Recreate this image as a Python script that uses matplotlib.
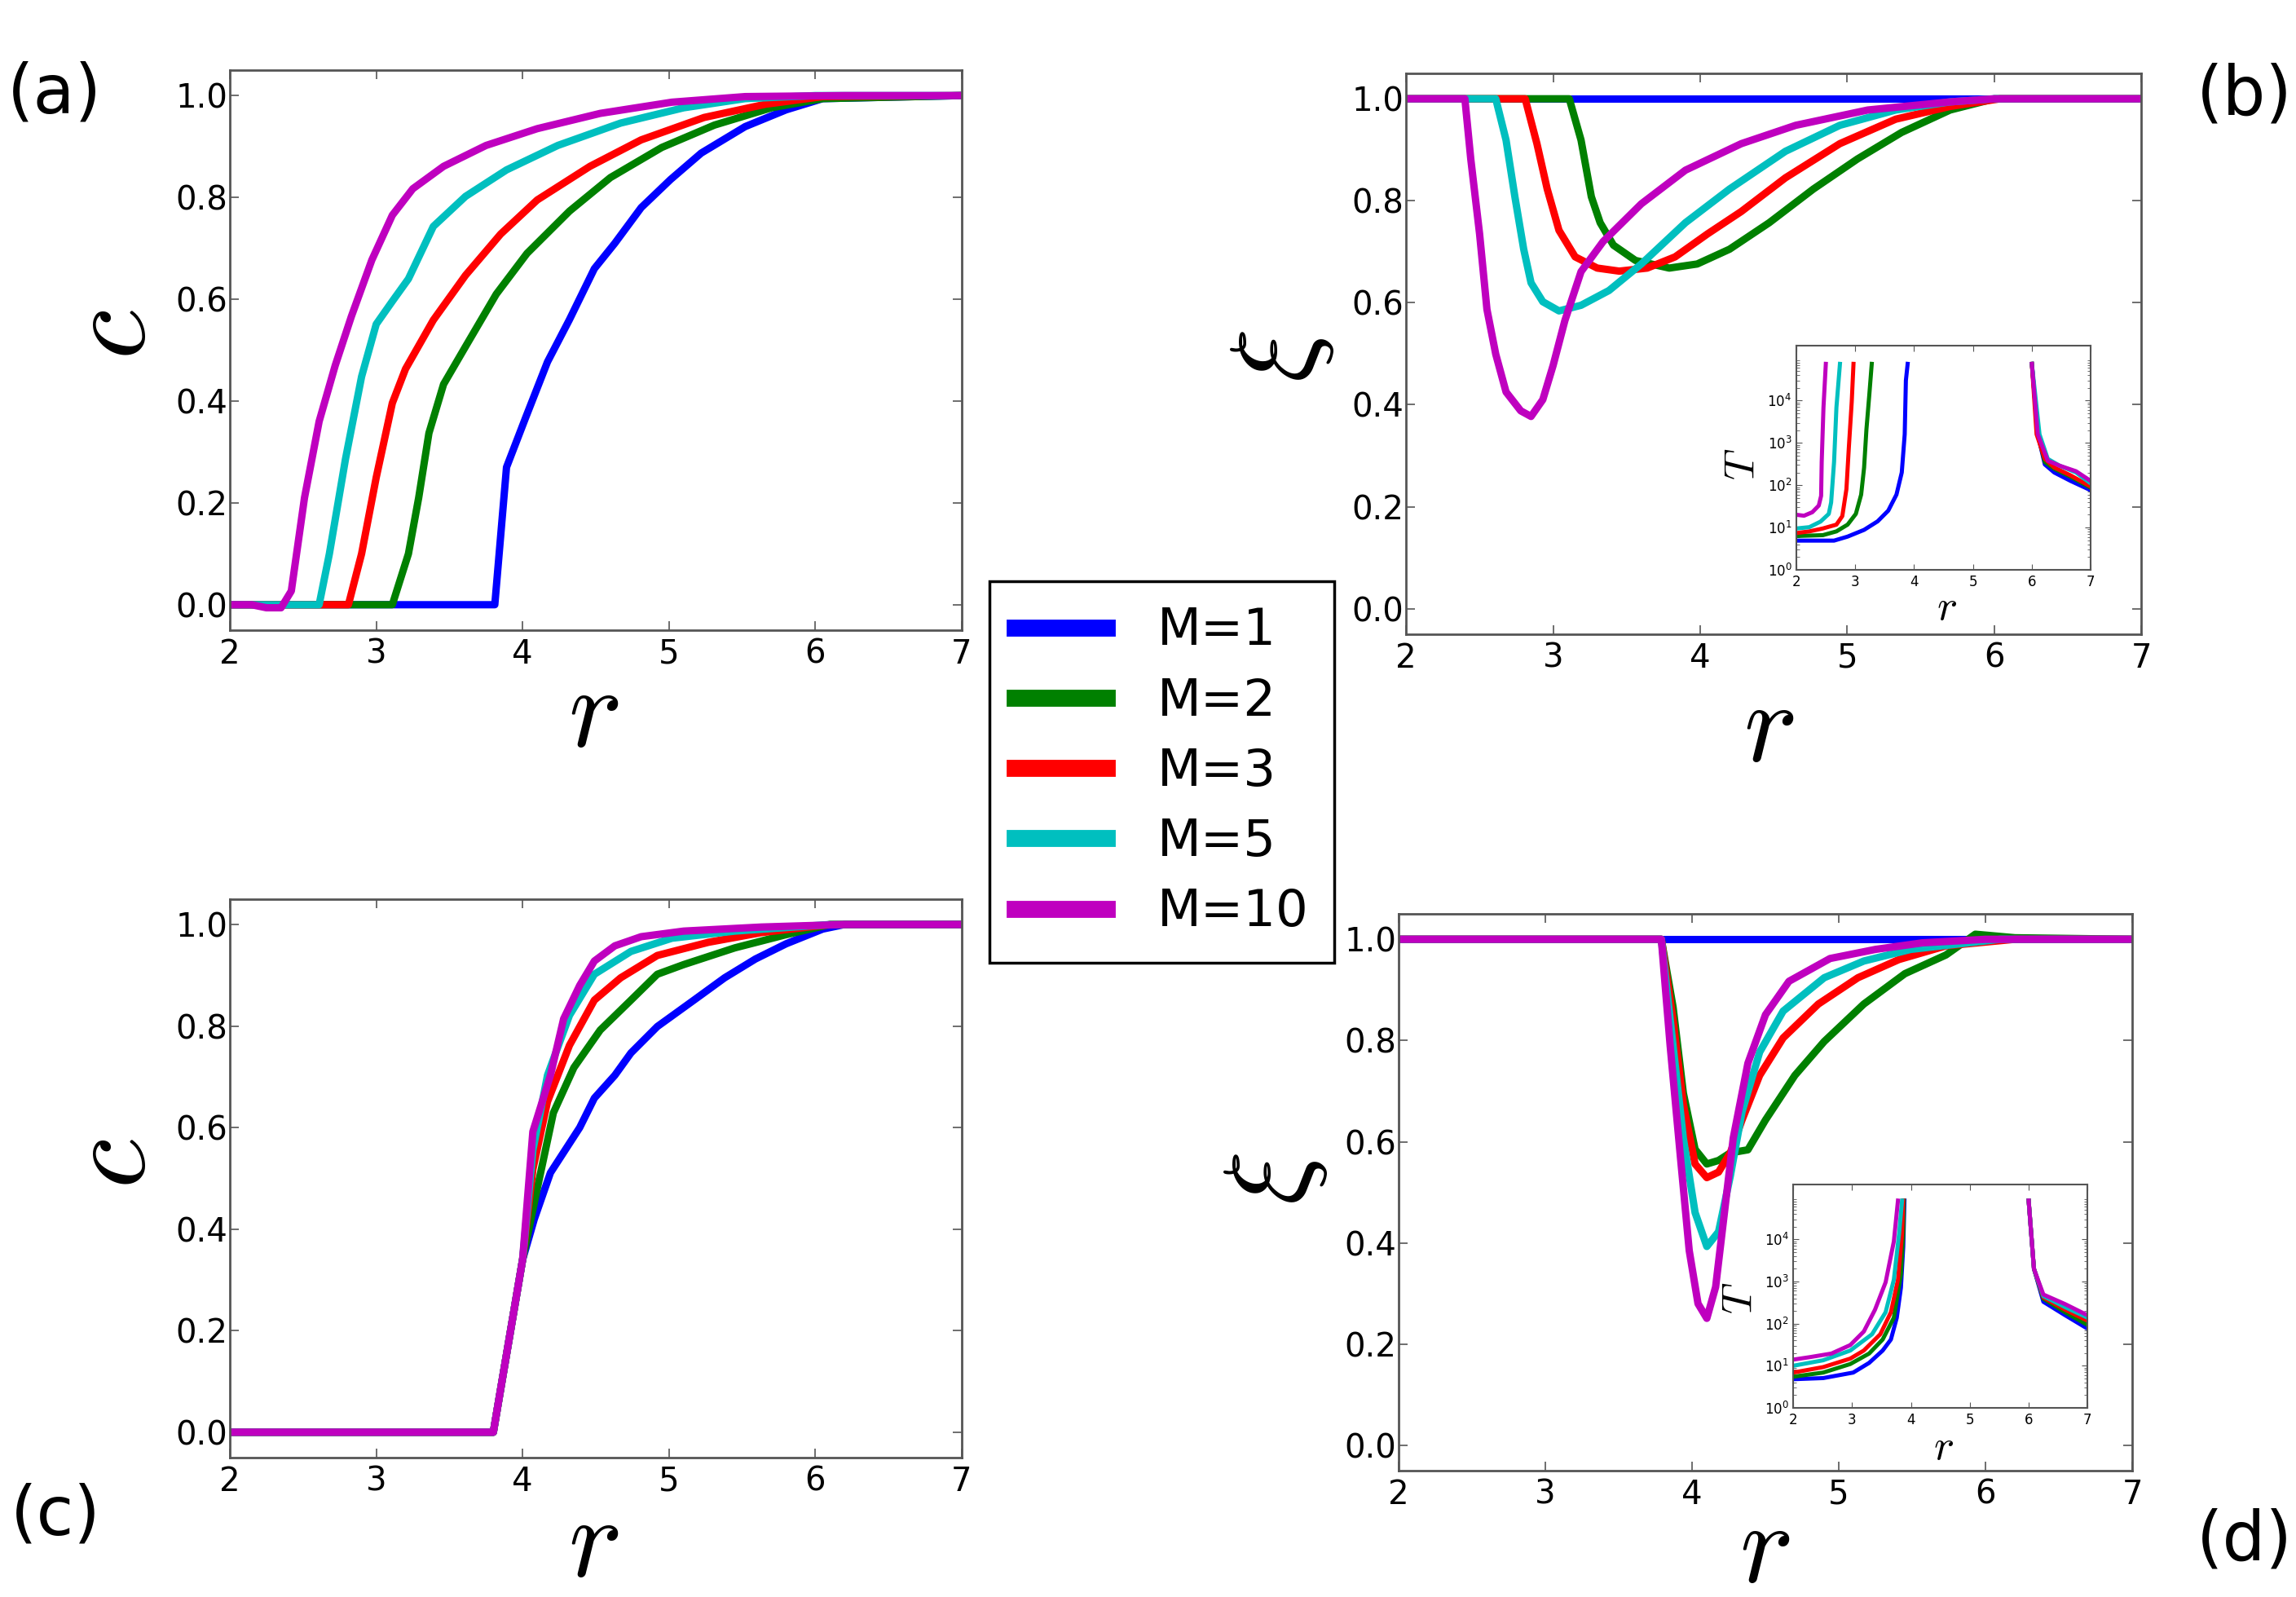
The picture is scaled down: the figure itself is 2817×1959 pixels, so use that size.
import numpy as np
import matplotlib.pyplot as plt

plt.rcParams['mathtext.fontset'] = 'cm'
plt.rcParams['font.family'] = 'DejaVu Sans'

labels = ["M=1", "M=2", "M=3", "M=5", "M=10"]
colors = ["b", "g", "r", "c", "m"]

# ---- panel (a): c vs r
a_r1 = [2.0, 3.81, 3.89, 4.02, 4.17, 4.32, 4.49, 4.63, 4.81, 5.01, 5.22, 5.52, 5.80, 6.05, 7.0]
a_c1 = [0.0, 0.0, 0.27, 0.367, 0.477, 0.56, 0.66, 0.71, 0.78, 0.835, 0.887, 0.939, 0.972, 0.994, 1.0]
a_r2 = [2.0, 3.11, 3.22, 3.29, 3.36, 3.46, 3.61, 3.82, 4.03, 4.32, 4.60, 4.95, 5.31, 5.70, 6.05, 7.0]
a_c2 = [0.0, 0.0, 0.10, 0.21, 0.337, 0.433, 0.507, 0.61, 0.69, 0.773, 0.839, 0.898, 0.942, 0.976, 0.994, 1.0]
a_r3 = [2.0, 2.81, 2.90, 3.00, 3.11, 3.20, 3.39, 3.61, 3.85, 4.10, 4.46, 4.81, 5.24, 5.66, 6.05, 7.0]
a_c3 = [0.0, 0.0, 0.10, 0.25, 0.396, 0.463, 0.559, 0.647, 0.728, 0.795, 0.861, 0.913, 0.957, 0.983, 0.998, 1.0]
a_r5 = [2.0, 2.61, 2.68, 2.79, 2.90, 3.00, 3.11, 3.22, 3.39, 3.61, 3.89, 4.24, 4.67, 5.10, 5.52, 6.0, 7.0]
a_c5 = [0.0, 0.0, 0.10, 0.286, 0.448, 0.551, 0.596, 0.64, 0.743, 0.802, 0.854, 0.902, 0.946, 0.976, 0.994, 1.0, 1.0]
a_r10 = [2.0, 2.15, 2.25, 2.35, 2.42, 2.51, 2.61, 2.72, 2.83, 2.97, 3.11, 3.25, 3.46, 3.75, 4.10, 4.53, 5.02, 5.52, 6.2, 7.0]
a_c10 = [0.0, 0.0, -0.006, -0.006, 0.027, 0.21, 0.36, 0.47, 0.566, 0.677, 0.765, 0.817, 0.861, 0.902, 0.935, 0.965, 0.987, 0.998, 1.0, 1.0]

# ---- panel (b): xi vs r
b_r1 = [2.0, 7.0]
b_x1 = [1.0, 1.0]
b_r2 = [2.0, 3.11, 3.19, 3.26, 3.32, 3.41, 3.56, 3.79, 3.98, 4.20, 4.47, 4.77, 5.07, 5.37, 5.70, 6.0, 7.0]
b_x2 = [1.0, 1.0, 0.919, 0.808, 0.757, 0.713, 0.683, 0.668, 0.676, 0.705, 0.757, 0.823, 0.882, 0.934, 0.978, 1.0, 1.0]
b_r3 = [2.0, 2.81, 2.89, 2.96, 3.04, 3.15, 3.30, 3.45, 3.64, 3.83, 4.05, 4.28, 4.58, 4.95, 5.33, 5.70, 6.04, 7.0]
b_x3 = [1.0, 1.0, 0.912, 0.823, 0.742, 0.69, 0.668, 0.662, 0.668, 0.69, 0.735, 0.779, 0.845, 0.912, 0.96, 0.985, 1.0, 1.0]
b_r5 = [2.0, 2.61, 2.68, 2.74, 2.80, 2.85, 2.93, 3.04, 3.19, 3.38, 3.60, 3.90, 4.20, 4.58, 4.95, 5.33, 5.70, 6.0, 7.0]
b_x5 = [1.0, 1.0, 0.919, 0.808, 0.705, 0.639, 0.602, 0.584, 0.595, 0.624, 0.676, 0.757, 0.823, 0.897, 0.948, 0.978, 0.994, 1.0, 1.0]
b_r10 = [2.0, 2.40, 2.44, 2.50, 2.55, 2.61, 2.68, 2.78, 2.85, 2.93, 3.00, 3.08, 3.19, 3.34, 3.60, 3.90, 4.28, 4.65, 5.14, 5.70, 6.0, 7.0]
b_x10 = [1.0, 1.0, 0.882, 0.735, 0.587, 0.499, 0.425, 0.388, 0.377, 0.41, 0.477, 0.565, 0.661, 0.72, 0.794, 0.86, 0.912, 0.948, 0.978, 0.994, 1.0, 1.0]

# ---- panel (c): c vs r
c_r1 = [2.0, 3.80, 4.00, 4.08, 4.19, 4.39, 4.49, 4.63, 4.74, 4.92, 5.17, 5.38, 5.59, 5.80, 6.05, 6.2, 7.0]
c_c1 = [0.0, 0.0, 0.34, 0.42, 0.511, 0.60, 0.658, 0.703, 0.747, 0.799, 0.851, 0.895, 0.932, 0.962, 0.991, 1.0, 1.0]
c_r2 = [2.0, 3.80, 4.00, 4.10, 4.21, 4.35, 4.53, 4.74, 4.92, 5.10, 5.45, 5.80, 6.1, 7.0]
c_c2 = [0.0, 0.0, 0.34, 0.48, 0.629, 0.718, 0.792, 0.851, 0.902, 0.921, 0.954, 0.98, 1.0, 1.0]
c_r3 = [2.0, 3.80, 4.00, 4.07, 4.17, 4.32, 4.49, 4.67, 4.92, 5.27, 5.63, 6.1, 7.0]
c_c3 = [0.0, 0.0, 0.34, 0.518, 0.651, 0.762, 0.851, 0.895, 0.939, 0.965, 0.984, 1.0, 1.0]
c_r5 = [2.0, 3.80, 4.00, 4.07, 4.17, 4.32, 4.49, 4.74, 5.02, 5.45, 6.1, 7.0]
c_c5 = [0.0, 0.0, 0.34, 0.555, 0.703, 0.821, 0.902, 0.947, 0.973, 0.987, 1.0, 1.0]
c_r10 = [2.0, 3.80, 4.00, 4.07, 4.19, 4.28, 4.39, 4.49, 4.63, 4.81, 5.10, 5.63, 6.2, 7.0]
c_c10 = [0.0, 0.0, 0.34, 0.592, 0.703, 0.814, 0.880, 0.928, 0.958, 0.976, 0.987, 0.995, 1.0, 1.0]

# ---- panel (d): xi vs r
d_r1 = [2.0, 7.0]
d_x1 = [1.0, 1.0]
d_r2 = [2.0, 3.79, 3.87, 3.94, 4.02, 4.10, 4.18, 4.26, 4.38, 4.50, 4.70, 4.90, 5.17, 5.45, 5.73, 5.93, 6.2, 7.0]
d_x2 = [1.0, 1.0, 0.866, 0.696, 0.585, 0.556, 0.563, 0.578, 0.584, 0.643, 0.731, 0.798, 0.872, 0.932, 0.969, 1.01, 1.003, 1.0]
d_r3 = [2.0, 3.79, 3.87, 3.94, 4.02, 4.10, 4.18, 4.26, 4.34, 4.46, 4.62, 4.86, 5.13, 5.41, 5.73, 6.2, 7.0]
d_x3 = [1.0, 1.0, 0.84, 0.674, 0.556, 0.529, 0.54, 0.578, 0.643, 0.731, 0.805, 0.872, 0.924, 0.96, 0.987, 1.0, 1.0]
d_r5 = [2.0, 3.79, 3.87, 3.94, 4.02, 4.10, 4.18, 4.26, 4.34, 4.46, 4.62, 4.90, 5.17, 5.49, 6.1, 7.0]
d_x5 = [1.0, 1.0, 0.79, 0.607, 0.46, 0.393, 0.422, 0.532, 0.659, 0.777, 0.858, 0.924, 0.957, 0.98, 1.0, 1.0]
d_r10 = [2.0, 3.79, 3.85, 3.92, 3.98, 4.04, 4.10, 4.16, 4.22, 4.28, 4.38, 4.50, 4.66, 4.94, 5.25, 5.57, 6.0, 7.0]
d_x10 = [1.0, 1.0, 0.79, 0.57, 0.385, 0.28, 0.251, 0.313, 0.46, 0.607, 0.755, 0.851, 0.917, 0.962, 0.98, 0.993, 1.0, 1.0]

# ---- inset of (b): T vs r, two branches per M
bi_rL1 = [2.0, 2.64, 2.87, 3.15, 3.38, 3.56, 3.70, 3.79, 3.84, 3.86, 3.89]
bi_TL1 = [4.9, 4.9, 6.1, 8.8, 14, 25, 60, 200, 1600, 3.0e4, 7.4e4]
bi_rL2 = [2.0, 2.45, 2.68, 2.87, 3.01, 3.10, 3.15, 3.19, 3.24, 3.28]
bi_TL2 = [6.3, 6.6, 8.1, 11.7, 21, 60, 260, 2100, 1.45e4, 7.4e4]
bi_rL3 = [2.0, 2.22, 2.45, 2.68, 2.78, 2.85, 2.89, 2.94, 2.97]
bi_TL3 = [7.4, 8.1, 9.5, 11.7, 18.6, 81, 740, 9300, 7.4e4]
bi_rL5 = [2.0, 2.22, 2.41, 2.55, 2.59, 2.64, 2.68, 2.74]
bi_TL5 = [9.5, 10.2, 13.8, 21, 39, 355, 6900, 7.4e4]
bi_rL10 = [2.0, 2.13, 2.27, 2.38, 2.42, 2.43, 2.46, 2.50]
bi_TL10 = [20, 19, 23, 33, 56, 355, 6900, 7.4e4]
bi_rR1 = [6.0, 6.10, 6.22, 6.38, 6.66, 7.0]
bi_TR1 = [7.4e4, 1600, 310, 200, 126, 76]
bi_rR2 = [6.0, 6.10, 6.22, 6.38, 6.66, 7.0]
bi_TR2 = [7.4e4, 1600, 355, 245, 158, 87]
bi_rR3 = [6.0, 6.08, 6.22, 6.38, 6.66, 7.0]
bi_TR3 = [7.4e4, 1600, 420, 263, 170, 93]
bi_rR5 = [6.0, 6.13, 6.27, 6.47, 6.75, 7.0]
bi_TR5 = [7.4e4, 1600, 420, 290, 200, 110]
bi_rR10 = [6.0, 6.10, 6.27, 6.47, 6.75, 7.0]
bi_TR10 = [7.4e4, 1600, 380, 290, 214, 126]

# ---- inset of (d)
di_rL1 = [2.0, 2.51, 3.02, 3.29, 3.52, 3.66, 3.76, 3.83, 3.87, 3.89]
di_TL1 = [4.8, 5.1, 6.9, 11.7, 23, 42, 138, 710, 6600, 8.3e4]
di_rL2 = [2.0, 2.51, 2.97, 3.29, 3.52, 3.71, 3.83, 3.87, 3.88]
di_TL2 = [5.5, 6.9, 11, 19.5, 42, 138, 1480, 13800, 8.3e4]
di_rL3 = [2.0, 2.51, 2.97, 3.20, 3.48, 3.66, 3.78, 3.85, 3.87]
di_TL3 = [6.9, 9.3, 14.8, 23, 56, 186, 1100, 13800, 8.3e4]
di_rL5 = [2.0, 2.51, 2.97, 3.34, 3.57, 3.71, 3.80, 3.85]
di_TL5 = [10, 13.5, 23, 56, 186, 1100, 13800, 8.3e4]
di_rL10 = [2.0, 2.28, 2.65, 2.97, 3.20, 3.39, 3.57, 3.71, 3.78]
di_TL10 = [14, 16, 19.5, 31, 65, 214, 955, 8900, 8.3e4]
di_rR = [6.0, 6.09, 6.25, 6.62, 7.0]
di_TR1 = [8.3e4, 2000, 330, 158, 76]
di_TR2 = [8.3e4, 2000, 390, 186, 93]
di_TR3 = [8.3e4, 2000, 420, 214, 117]
di_TR5 = [8.3e4, 2000, 450, 245, 138]
di_TR10 = [8.3e4, 2000, 490, 290, 158]

fig = plt.figure(figsize=(28.17, 19.59), dpi=100)

ax_a = fig.add_axes([0.1001, 0.6054, 0.3188, 0.3507])
ax_b = fig.add_axes([0.6124, 0.6029, 0.3202, 0.3512])
ax_c = fig.add_axes([0.1001, 0.0873, 0.3188, 0.3497])
ax_d = fig.add_axes([0.6092, 0.0791, 0.3195, 0.3486])
ax_bi = fig.add_axes([0.7824, 0.6432, 0.1282, 0.1404])
ax_di = fig.add_axes([0.7810, 0.1184, 0.1282, 0.1399])

main_series = [
    (ax_a, [(a_r1, a_c1), (a_r2, a_c2), (a_r3, a_c3), (a_r5, a_c5), (a_r10, a_c10)]),
    (ax_b, [(b_r1, b_x1), (b_r2, b_x2), (b_r3, b_x3), (b_r5, b_x5), (b_r10, b_x10)]),
    (ax_c, [(c_r1, c_c1), (c_r2, c_c2), (c_r3, c_c3), (c_r5, c_c5), (c_r10, c_c10)]),
    (ax_d, [(d_r1, d_x1), (d_r2, d_x2), (d_r3, d_x3), (d_r5, d_x5), (d_r10, d_x10)]),
]

for ax, series in main_series:
    for (x, y), col, lab in zip(series, colors, labels):
        ax.plot(x, y, color=col, lw=6.5, label=lab, solid_joinstyle='round')
    ax.set_xlim(2, 7)
    ax.set_ylim(-0.05, 1.05)
    ax.set_xticks([2, 3, 4, 5, 6, 7])
    ax.set_yticks([0.0, 0.2, 0.4, 0.6, 0.8, 1.0])
    ax.tick_params(direction='in', top=True, right=True, length=8, width=1.2,
                   color='#555555', labelsize=29)
    ax.tick_params(axis='x', pad=7)
    ax.tick_params(axis='y', pad=2)
    for s in ax.spines.values():
        s.set_color('#555555')
        s.set_linewidth(2)

# axis labels
lab_specs = [
    (ax_a, r'$c$', (0.497, -0.151), (-0.16, 0.528)),
    (ax_b, r'$\xi$', (0.493, -0.170), (-0.170, 0.496)),
    (ax_c, r'$c$', (0.497, -0.156), (-0.16, 0.526)),
    (ax_d, r'$\xi$', (0.499, -0.142), (-0.170, 0.524)),
]
for ax, ylab, xc, yc in lab_specs:
    ax.set_xlabel(r'$r$', fontsize=100)
    ax.set_ylabel(ylab, fontsize=100)
    ax.xaxis.set_label_coords(*xc)
    ax.yaxis.set_label_coords(*yc)
    ax.xaxis.label.set_verticalalignment('center')
    ax.yaxis.label.set_verticalalignment('center')

# insets
inset_series = [
    (ax_bi, [(bi_rL1, bi_TL1), (bi_rL2, bi_TL2), (bi_rL3, bi_TL3), (bi_rL5, bi_TL5), (bi_rL10, bi_TL10)],
     [(bi_rR1, bi_TR1), (bi_rR2, bi_TR2), (bi_rR3, bi_TR3), (bi_rR5, bi_TR5), (bi_rR10, bi_TR10)],
     (-0.183, 0.47), (0.51, -0.167)),
    (ax_di, [(di_rL1, di_TL1), (di_rL2, di_TL2), (di_rL3, di_TL3), (di_rL5, di_TL5), (di_rL10, di_TL10)],
     [(di_rR, di_TR1), (di_rR, di_TR2), (di_rR, di_TR3), (di_rR, di_TR5), (di_rR, di_TR10)],
     (-0.18, 0.49), (0.51, -0.175)),
]
for ax, left, right, yc, xc in inset_series:
    for (x, y), col in zip(left, colors):
        ax.plot(x, y, color=col, lw=3.6)
    for (x, y), col in zip(right, colors):
        ax.plot(x, y, color=col, lw=3.6)
    ax.set_yscale('log')
    ax.set_xlim(2, 7)
    ax.set_ylim(1, 2e5)
    ax.set_xticks([2, 3, 4, 5, 6, 7])
    ax.set_yticks([1, 10, 100, 1e3, 1e4])
    ax.tick_params(which='both', direction='in', top=True, right=True,
                   color='#555555', labelsize=12, pad=4)
    ax.tick_params(which='major', length=5)
    ax.tick_params(which='minor', length=3)
    for s in ax.spines.values():
        s.set_color('#555555')
        s.set_linewidth(1.5)
    ax.set_ylabel(r'$T$', fontsize=38)
    ax.set_xlabel(r'$r$', fontsize=38)
    ax.yaxis.set_label_coords(*yc)
    ax.xaxis.set_label_coords(*xc)
    ax.xaxis.label.set_verticalalignment('center')
    ax.yaxis.label.set_verticalalignment('center')

# legend
handles, hlabels = ax_a.get_legend_handles_labels()
leg = fig.legend(handles, hlabels, loc='center', bbox_to_anchor=(0.506, 0.5166),
                 fontsize=45, handlelength=1.8, handletextpad=1.0, labelspacing=0.42,
                 borderpad=0.5, fancybox=False, framealpha=1, edgecolor='black')
leg.get_frame().set_linewidth(2.5)
for line in leg.get_lines():
    line.set_linewidth(15)

# panel letters
fig.text(67 / 2817, 1 - 115 / 1959, '(a)', fontsize=60, ha='center', va='center')
fig.text(2754 / 2817, 1 - 117 / 1959, '(b)', fontsize=60, ha='center', va='center')
fig.text(68 / 2817, 1 - 1859 / 1959, '(c)', fontsize=60, ha='center', va='center')
fig.text(2754 / 2817, 1 - 1890 / 1959, '(d)', fontsize=60, ha='center', va='center')

plt.savefig("out.png", dpi=100)
